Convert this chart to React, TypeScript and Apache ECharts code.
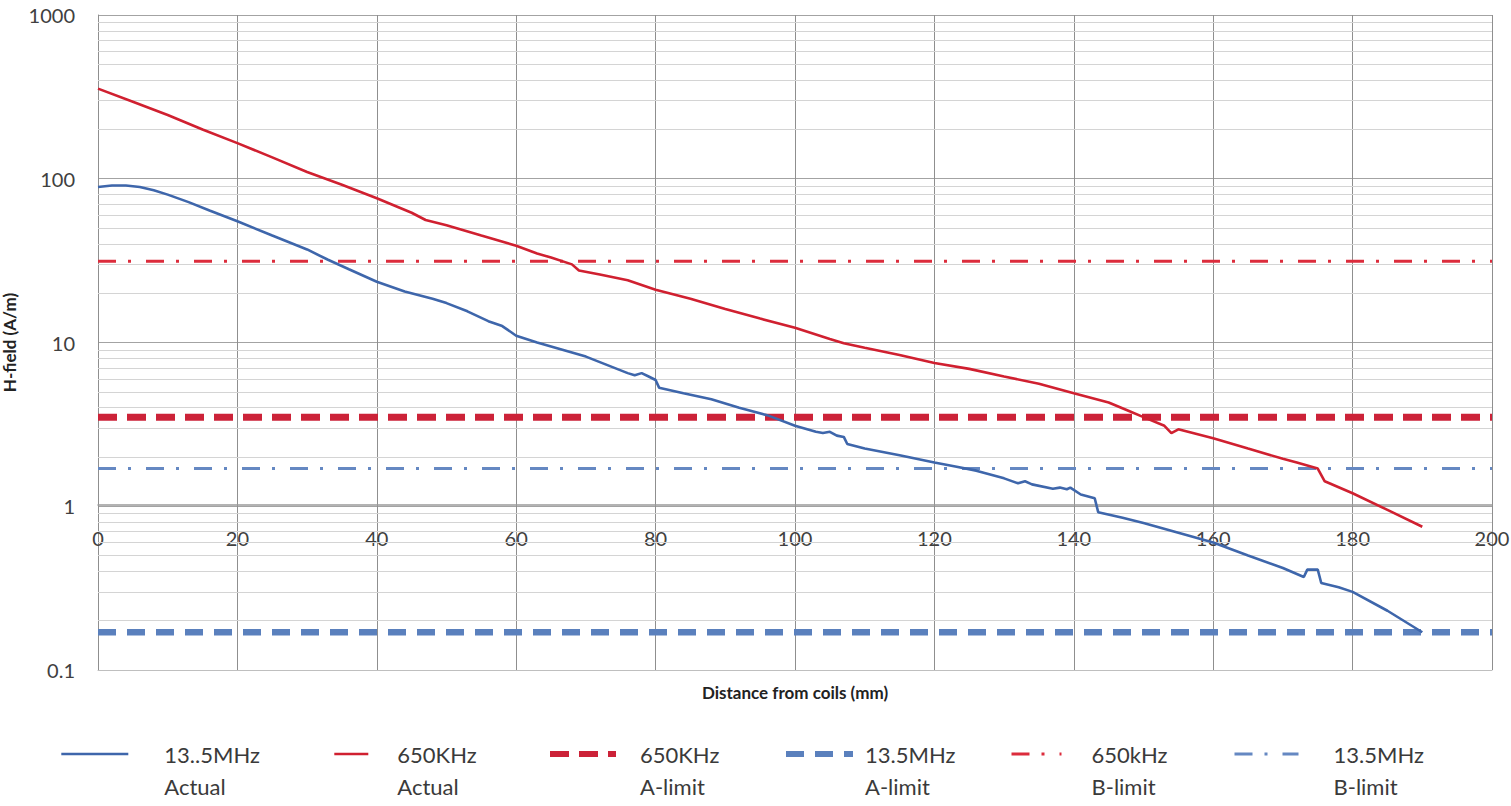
import React, { useEffect, useRef } from "react";
import * as echarts from "echarts";

// ---- data ----
const xMin = 0;
const xMax = 200;
const xInterval = 20;
const yMin = 0.1;
const yMax = 1000;
const yTickLabels = ["0.1", "1", "10", "100", "1000"];
const minorMultipliers = [2, 3, 4, 5, 6, 7, 8, 9];
const decades = [0.1, 1, 10, 100];

const blueActual: [number, number][] = [
  [0, 89], [2, 91], [4, 91], [6, 89], [8, 85], [10, 80], [13, 72], [16, 64], [20, 55],
  [25, 45], [30, 37], [33, 32], [36, 28], [40, 23.5], [44, 20.5], [48, 18.5], [50, 17.4],
  [53, 15.5], [56, 13.5], [58, 12.6], [60, 11], [63, 10], [66, 9.2], [70, 8.2], [73, 7.3],
  [76, 6.5], [77, 6.3], [78, 6.5], [79, 6.2], [80, 5.9], [80.5, 5.3], [84, 4.9], [88, 4.5],
  [92, 4.0], [96, 3.6], [100, 3.1], [103, 2.85], [104, 2.8], [105, 2.85], [106, 2.7],
  [107, 2.65], [107.5, 2.4], [110, 2.25], [115, 2.05], [120, 1.85], [123, 1.75], [126, 1.65],
  [130, 1.48], [132, 1.38], [133, 1.42], [134, 1.36], [137, 1.28], [138, 1.3], [139, 1.27],
  [139.5, 1.3], [141, 1.18], [143, 1.12], [143.5, 0.92], [147, 0.85], [150, 0.79],
  [155, 0.69], [160, 0.6], [165, 0.5], [170, 0.42], [173, 0.37], [173.5, 0.41], [175, 0.41],
  [175.5, 0.34], [178, 0.32], [180, 0.3], [185, 0.23], [190, 0.17],
];

const redActual: [number, number][] = [
  [0, 355], [5, 295], [10, 245], [15, 200], [20, 165], [25, 135], [30, 110], [35, 92],
  [40, 76], [45, 62], [47, 56], [50, 52], [55, 45], [60, 39], [63, 35], [65, 33], [68, 30],
  [69, 27.5], [72, 26], [76, 24], [80, 21], [85, 18.5], [90, 16], [95, 14], [100, 12.3],
  [105, 10.5], [107, 9.9], [110, 9.3], [115, 8.4], [120, 7.5], [125, 6.9], [130, 6.2],
  [135, 5.6], [140, 4.9], [145, 4.3], [148, 3.8], [150, 3.5], [153, 3.1], [154, 2.8],
  [155, 2.95], [160, 2.6], [165, 2.25], [170, 1.95], [172, 1.85], [175, 1.7], [176, 1.42],
  [180, 1.2], [185, 0.95], [190, 0.75],
];

const red650ALimit = 3.5;
const blue13ALimit = 0.17;
const red650BLimit = 31.4;
const blue13BLimit = 1.7;

const seriesNames = [
  "13..5MHz\nActual",
  "650KHz\nActual",
  "650KHz\nA-limit",
  "13.5MHz\nA-limit",
  "650kHz\nB-limit",
  "13.5MHz\nB-limit",
];

const seriesColors = ["#3e66ab", "#d02030", "#cc2238", "#5a80bd", "#dc2c3c", "#6588c2"];
const seriesWidths = [2.6, 2.6, 7, 6.5, 3, 3];
const seriesDashes: any[] = ["solid", "solid", [19, 10], [18, 11], [18, 12, 3, 15], [18, 12, 3, 15]];

// legend layout: [lineStart, lineEnd, textStart]
const legendSlots: [number, number, number][] = [
  [60, 127, 163],
  [333, 367, 396],
  [547, 613, 637],
  [783, 850, 862],
  [1010, 1060, 1090],
  [1233, 1297, 1332],
];

const FONT = "Lato, 'Liberation Sans', sans-serif";

export default function App() {
  const ref = useRef<HTMLDivElement>(null);

  useEffect(() => {
    if (!ref.current) return;
    const chart = echarts.init(ref.current, undefined, { renderer: "svg" });

    const minorVals: number[] = [];
    decades.forEach((d) => minorMultipliers.forEach((m) => minorVals.push(+(d * m).toPrecision(3))));

    const limitLine = (v: number) => [
      [xMin, v],
      [xMax, v],
    ];

    const legends = legendSlots.map(([ls, le, ts], i) => ({
      data: [seriesNames[i]],
      left: ls,
      top: 706,
      padding: 0,
      itemWidth: le - ls,
      itemHeight: 14,
      selectedMode: false,
      formatter: (name: string) => "\n" + name,
      itemStyle: { opacity: 0, borderWidth: 0 },
      lineStyle: {
        width: Math.min(seriesWidths[i], 6),
        type: seriesDashes[i],
        color: seriesColors[i],
      },
      textStyle: {
        fontFamily: FONT,
        fontSize: 22,
        lineHeight: 32,
        color: "#3a3a3a",
        padding: [0, 0, 0, Math.max(0, ts - le - 5)],
      },
    }));

    const makeSeries = (i: number, data: any, z: number) => ({
      name: seriesNames[i],
      type: "line",
      data,
      symbol: "none",
      z,
      lineStyle: { color: seriesColors[i], width: seriesWidths[i], type: seriesDashes[i] },
      itemStyle: { color: seriesColors[i] },
    });

    const option: any = {
      animation: false,
      textStyle: { fontFamily: FONT },
      grid: {
        left: 98,
        right: 19,
        top: 15,
        bottom: 136,
        containLabel: false,
        outerBoundsMode: "none",
      },
      legend: legends,
      xAxis: [
        {
          type: "value",
          min: xMin,
          max: xMax,
          interval: xInterval,
          position: "bottom",
          axisLine: { show: true, lineStyle: { color: "#bfbfbf", width: 1 } },
          axisTick: { show: false },
          axisLabel: { show: false },
          splitLine: { show: true, lineStyle: { color: "#8f8f8f", width: 1 } },
          name: "Distance from coils (mm)",
          nameLocation: "middle",
          nameGap: 14,
          nameTextStyle: { fontFamily: FONT, fontWeight: "bold", fontSize: 17, color: "#222" },
        },
        {
          type: "value",
          min: xMin,
          max: xMax,
          interval: xInterval,
          position: "bottom",
          offset: -165,
          axisLine: { show: true, lineStyle: { color: "#9a9a9a", width: 1.5 } },
          axisTick: { show: false },
          axisLabel: { show: true, margin: 23, fontSize: 20, color: "#404040", fontFamily: FONT },
          splitLine: { show: false },
        },
      ],
      yAxis: {
        type: "log",
        logBase: 10,
        min: yMin,
        max: yMax,
        axisLine: { show: true, lineStyle: { color: "#8f8f8f", width: 1 } },
        axisTick: { show: false },
        axisLabel: {
          margin: 23,
          fontSize: 20,
          color: "#404040",
          fontFamily: FONT,
          formatter: (v: number) => {
            const idx = Math.round(Math.log10(v)) + 1;
            return yTickLabels[idx] ?? String(v);
          },
        },
        splitLine: { show: true, lineStyle: { color: "#a3a3a3", width: 1.2 } },
        name: "H-field (A/m)",
        nameLocation: "middle",
        nameGap: 74,
        nameTextStyle: { fontFamily: FONT, fontWeight: "bold", fontSize: 17, color: "#222" },
      },
      series: [
        {
          name: "minor-grid",
          type: "line",
          data: [],
          z: 1,
          silent: true,
          markLine: {
            silent: true,
            symbol: ["none", "none"],
            label: { show: false },
            lineStyle: { color: "#d4d4d4", width: 1, type: "solid" },
            emphasis: { disabled: true },
            data: minorVals.map((v) => ({ yAxis: v })),
          },
        },
        makeSeries(0, blueActual, 5),
        makeSeries(1, redActual, 5),
        makeSeries(2, limitLine(red650ALimit), 4),
        makeSeries(3, limitLine(blue13ALimit), 4),
        makeSeries(4, limitLine(red650BLimit), 4),
        makeSeries(5, limitLine(blue13BLimit), 4),
      ],
    };

    chart.setOption(option);
    return () => chart.dispose();
  }, []);

  return <div ref={ref} style={{ width: 1511, height: 806, position: "absolute", left: 0, top: 0 }} />;
}
